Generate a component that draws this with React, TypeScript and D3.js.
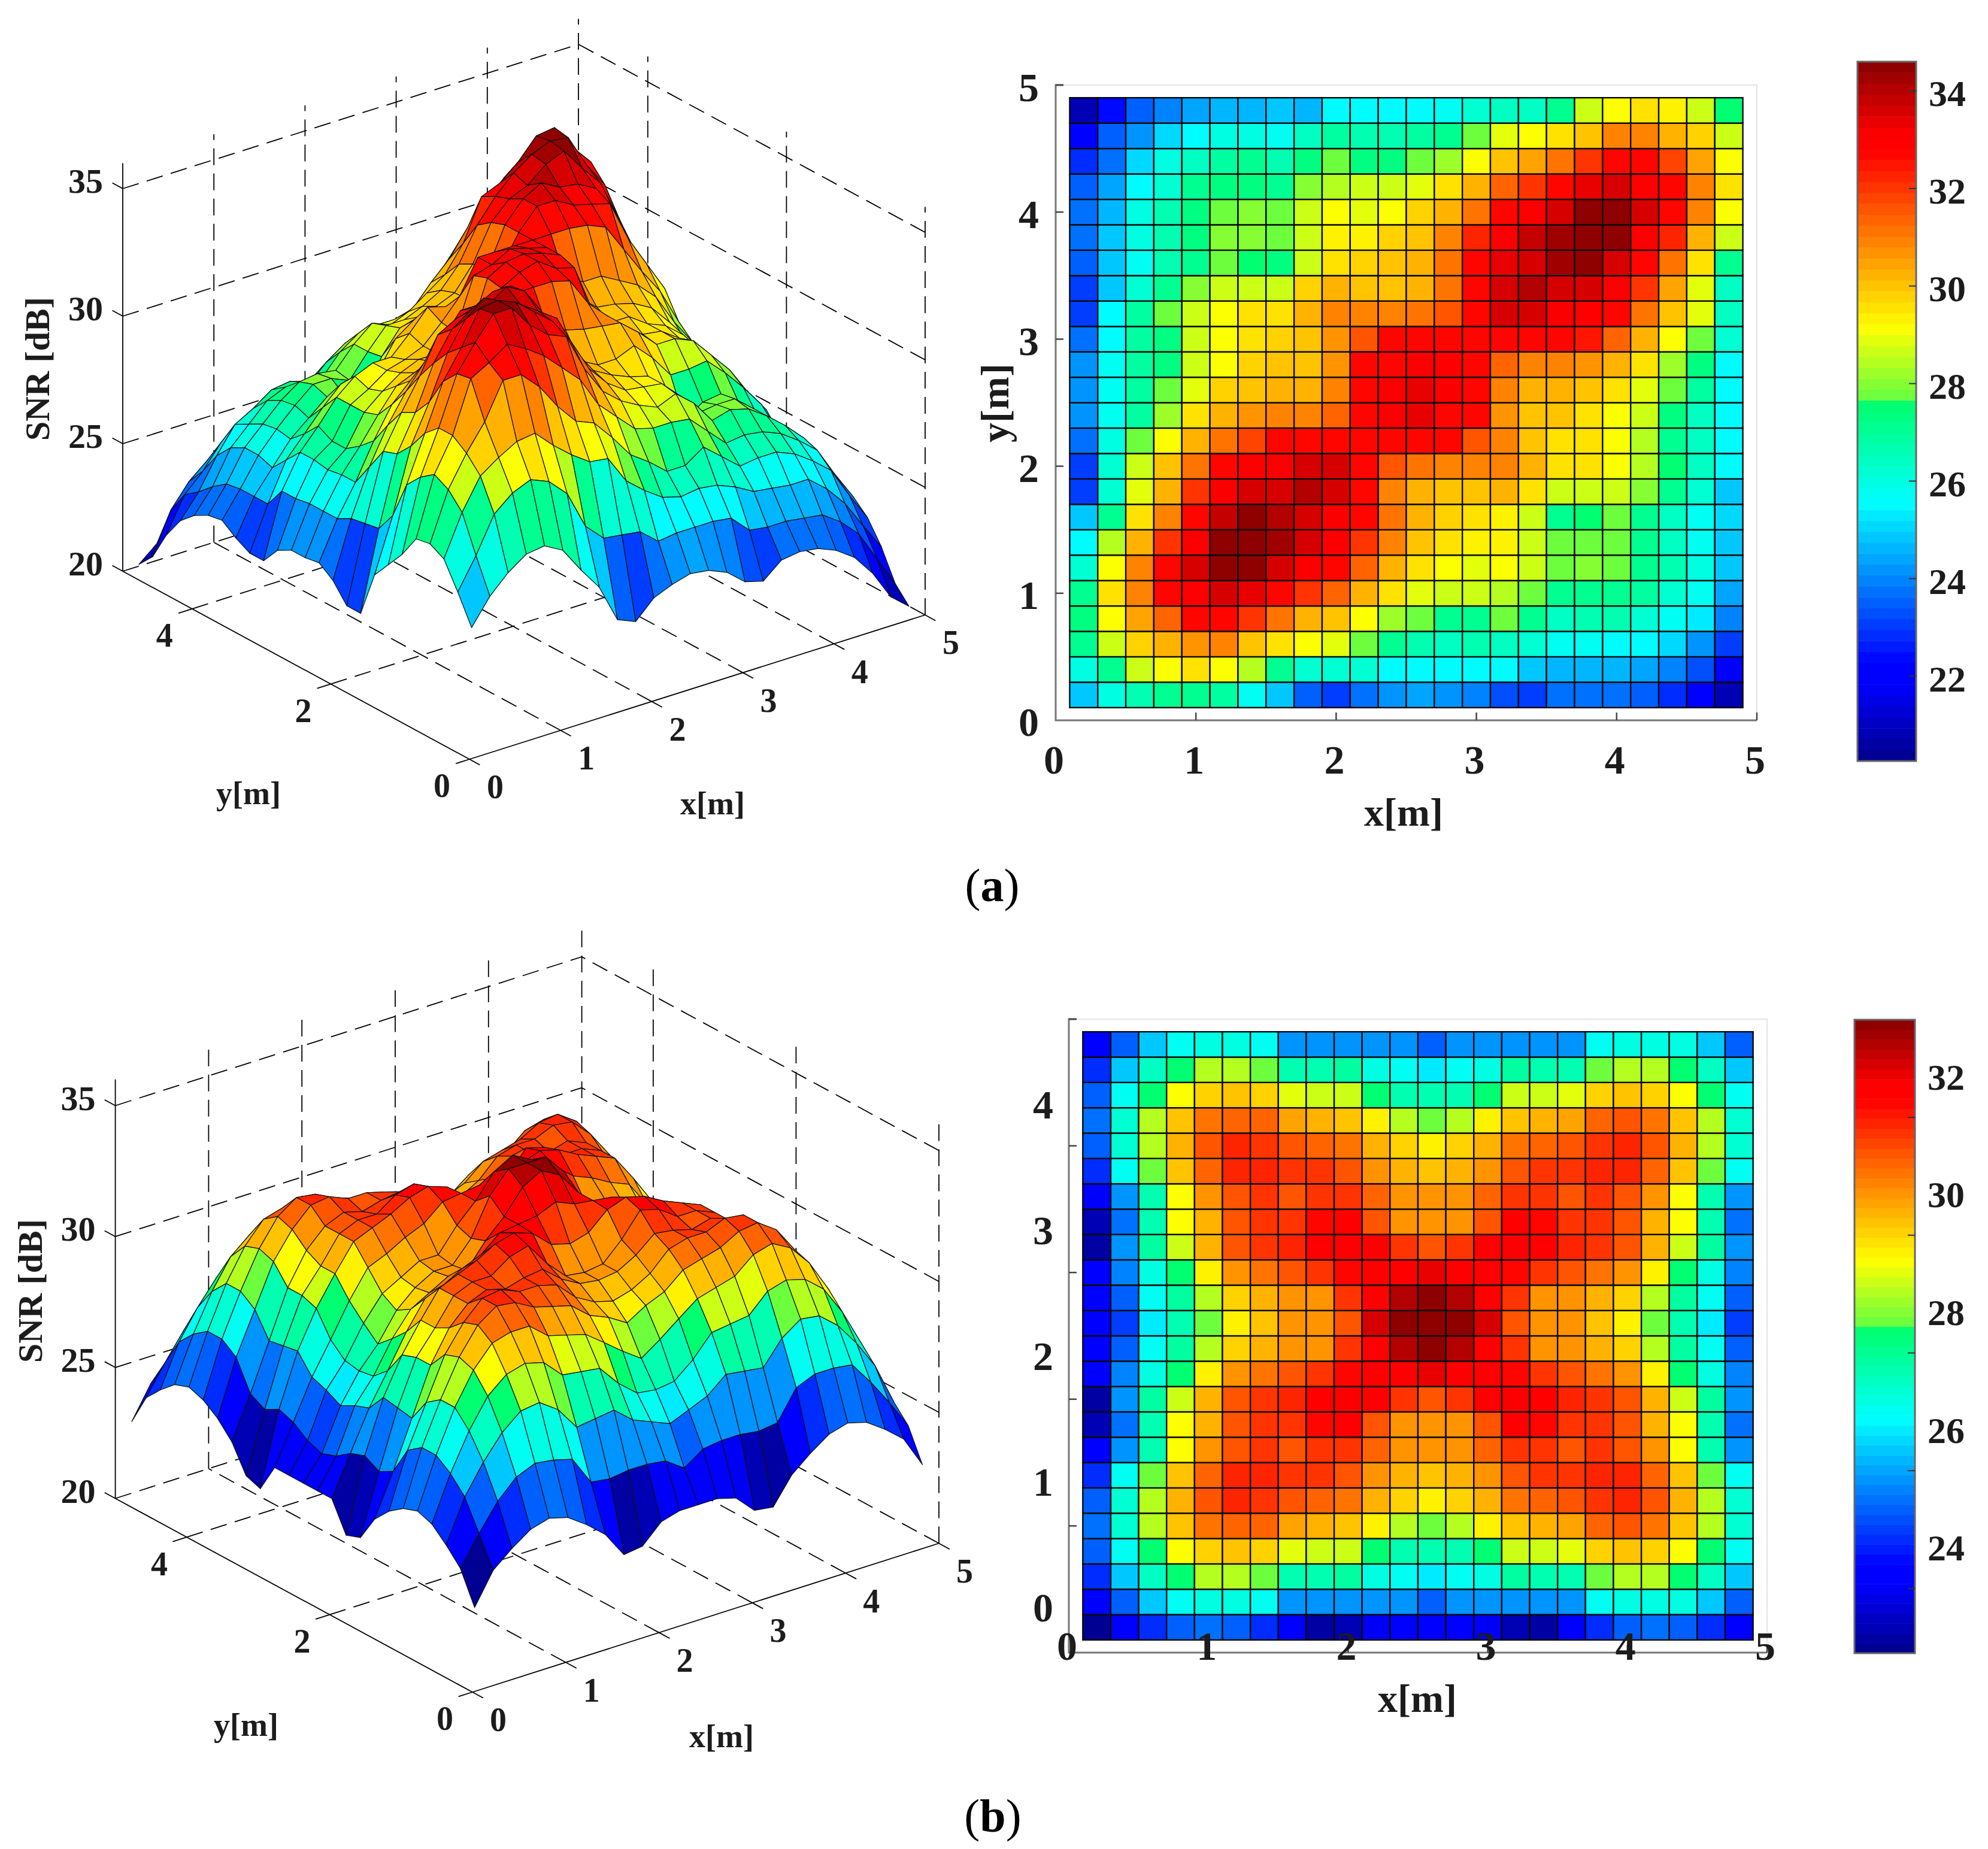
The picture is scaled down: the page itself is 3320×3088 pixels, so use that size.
import * as d3 from 'd3'

const snrRowsA: number[][] = [
  [24.9, 25.9, 26.6, 27.1, 27.2, 26.8, 25.8, 24.9, 23.4, 23.1, 23.8, 24.1, 24.3, 24.2, 23.9, 23.3, 23.1, 23.7, 23.8, 23.7, 23.4, 22.9, 22.05, 20.9],
  [26.0, 27.2, 28.6, 29.2, 29.5, 29.2, 28.5, 27.0, 26.3, 26.2, 26.1, 25.5, 25.6, 25.6, 25.6, 25.5, 24.8, 24.7, 24.7, 24.6, 24.5, 24.0, 23.3, 22.1],
  [27.0, 28.6, 29.8, 30.3, 30.7, 30.8, 30.1, 29.5, 29.0, 28.9, 27.8, 27.2, 26.7, 26.5, 26.6, 26.5, 26.2, 25.8, 25.7, 25.6, 25.6, 25.0, 24.2, 23.1],
  [27.3, 29.2, 30.4, 31.4, 32.8, 32.8, 32.1, 31.1, 30.3, 30.0, 29.2, 28.3, 27.8, 27.2, 27.2, 27.7, 27.1, 26.5, 26.6, 26.6, 26.3, 25.8, 25.2, 24.0],
  [27.2, 29.5, 30.8, 32.8, 33.2, 33.7, 33.3, 32.8, 32.1, 31.4, 30.2, 29.5, 28.8, 28.6, 28.6, 28.5, 27.8, 27.1, 27.2, 27.1, 26.8, 26.3, 25.7, 24.5],
  [26.3, 29.1, 30.8, 32.7, 33.7, 34.6, 34.6, 33.7, 33.1, 32.8, 31.3, 30.2, 29.6, 29.2, 28.9, 29.2, 28.6, 27.7, 27.9, 27.7, 27.2, 26.6, 25.9, 24.8],
  [25.6, 28.5, 30.3, 32.1, 33.2, 34.5, 34.6, 34.3, 33.7, 33.1, 32.1, 30.8, 30.0, 29.5, 29.4, 29.3, 28.6, 27.7, 27.8, 27.8, 27.2, 26.5, 25.8, 24.9],
  [24.9, 27.0, 29.5, 31.0, 32.7, 33.8, 34.4, 34.0, 33.7, 33.2, 32.7, 31.2, 30.2, 29.8, 29.5, 29.3, 28.6, 27.1, 27.6, 27.7, 27.1, 26.4, 25.7, 25.0],
  [23.1, 26.2, 28.9, 30.3, 32.0, 33.1, 33.6, 33.6, 34.1, 33.7, 32.6, 31.0, 30.3, 29.9, 29.9, 30.2, 29.5, 28.6, 28.6, 28.7, 28.0, 27.2, 26.3, 24.9],
  [23.1, 26.1, 28.7, 30.0, 31.2, 32.6, 33.0, 33.2, 33.6, 33.6, 32.7, 31.5, 31.2, 31.0, 30.9, 30.8, 30.2, 29.5, 29.5, 29.2, 28.4, 27.6, 26.5, 25.6],
  [23.8, 26.0, 27.8, 29.2, 30.3, 31.2, 31.9, 32.8, 32.8, 32.8, 32.8, 32.8, 32.8, 32.6, 31.5, 30.8, 30.0, 29.6, 29.5, 29.0, 28.4, 27.2, 26.4, 25.6],
  [24.2, 25.7, 26.9, 28.3, 29.5, 30.2, 30.7, 31.0, 30.9, 31.4, 32.7, 33.1, 33.3, 32.8, 32.6, 30.7, 30.0, 30.0, 29.5, 29.2, 28.6, 27.3, 26.5, 25.6],
  [24.1, 25.7, 26.9, 27.8, 28.8, 29.7, 30.0, 30.2, 30.2, 30.8, 32.8, 33.2, 33.3, 33.1, 32.8, 30.9, 30.3, 30.2, 30.0, 29.6, 28.8, 27.7, 26.9, 25.6],
  [24.1, 25.7, 26.8, 27.4, 28.6, 29.2, 29.7, 30.0, 30.0, 30.6, 32.6, 32.8, 33.2, 33.0, 32.8, 31.4, 31.0, 31.0, 30.6, 30.2, 29.5, 28.3, 27.3, 25.6],
  [23.8, 25.6, 26.9, 27.4, 28.6, 29.0, 29.5, 29.7, 30.0, 30.7, 31.5, 32.8, 32.8, 32.8, 32.8, 32.8, 32.8, 32.7, 32.4, 31.3, 30.2, 29.2, 27.8, 26.3],
  [23.1, 25.6, 26.9, 27.7, 28.6, 29.2, 29.5, 29.5, 30.2, 31.0, 30.8, 30.8, 31.2, 31.6, 32.8, 33.6, 33.6, 33.2, 33.0, 32.8, 31.2, 30.0, 28.8, 26.4],
  [23.1, 24.8, 26.3, 27.1, 27.9, 28.6, 28.6, 28.6, 29.7, 30.2, 30.0, 30.0, 30.3, 31.2, 32.8, 33.6, 34.0, 33.6, 33.5, 33.1, 32.0, 30.4, 28.9, 26.4],
  [23.4, 24.8, 25.7, 26.6, 27.2, 27.8, 27.6, 27.3, 28.7, 29.6, 29.8, 30.0, 30.3, 31.2, 32.6, 33.3, 33.6, 34.2, 34.5, 33.6, 32.8, 31.2, 29.5, 27.2],
  [23.8, 24.8, 25.9, 26.7, 27.4, 28.0, 28.0, 27.7, 28.6, 29.4, 29.4, 29.7, 30.1, 30.9, 32.2, 33.1, 33.8, 34.3, 34.6, 34.5, 33.2, 32.2, 30.3, 28.6],
  [23.7, 24.7, 25.9, 26.6, 27.3, 27.8, 27.9, 27.8, 28.6, 29.2, 28.9, 29.2, 29.7, 30.2, 31.2, 32.8, 33.1, 33.7, 34.5, 34.6, 33.6, 32.8, 30.9, 29.2],
  [23.4, 24.3, 25.6, 26.3, 27.0, 27.3, 27.3, 27.2, 28.0, 28.5, 28.6, 28.6, 28.8, 29.6, 30.3, 31.3, 32.0, 32.8, 33.3, 33.6, 33.2, 32.7, 31.0, 29.6],
  [22.9, 23.8, 25.0, 26.0, 26.4, 26.9, 27.0, 26.6, 27.3, 27.8, 27.4, 27.3, 27.8, 28.3, 29.2, 30.1, 30.5, 31.2, 32.1, 32.8, 32.6, 31.8, 30.4, 29.2],
  [22.05, 23.4, 24.1, 25.0, 25.6, 25.9, 25.9, 25.7, 26.4, 26.9, 26.6, 26.7, 26.8, 27.1, 27.8, 28.8, 29.0, 29.5, 30.1, 30.8, 30.9, 30.3, 29.8, 28.6],
  [20.9, 22.5, 23.4, 24.0, 24.5, 24.7, 24.7, 24.9, 24.7, 25.6, 25.6, 25.6, 25.6, 25.7, 26.2, 26.5, 26.5, 27.1, 28.6, 29.2, 29.5, 29.3, 28.6, 27.5],
]
// the surface also has a last column (x = 4.9) and a last row (y = 4.9) the map does not show
const snrEdgeColA = [20.3, 20.9, 22.05, 22.9, 23.4, 23.7, 23.8, 23.4, 23.1, 23.1, 23.8, 24.1, 24.1, 24.2, 23.8, 23.1, 23.1, 24.9, 25.6, 26.3, 27.2, 27.3, 27.0, 26.0]
const snrEdgeRowA = [20.3, 20.9, 22.05, 22.9, 23.4, 23.7, 23.8, 23.7, 23.1, 23.3, 23.9, 24.2, 24.3, 24.1, 23.8, 23.1, 23.4, 24.9, 25.8, 26.8, 27.2, 27.1, 26.6, 25.9, 24.9]

// panel (b) is mirrored about its middle row, so only the lower half is listed
const rowB0 = [22.3, 23.5, 24.1, 24.6, 24.8, 24.6, 24.1, 23.5, 22.5, 22.6, 23.3, 23.5, 23.5, 23.5, 23.3, 22.6, 22.5, 23.5, 24.1, 24.6, 24.8, 24.6, 24.1, 23.5]
const rowB1 = [23.5, 24.6, 25.6, 26.3, 26.6, 26.5, 26.3, 25.2, 25.1, 25.2, 25.2, 25.1, 24.6, 25.1, 25.2, 25.2, 25.1, 25.2, 26.3, 26.6, 26.6, 26.5, 25.6, 24.6]
const rowB2 = [24.1, 25.7, 26.8, 27.7, 28.3, 28.4, 27.9, 27.0, 27.1, 27.2, 26.6, 26.3, 26.0, 26.3, 26.6, 27.2, 27.1, 27.0, 27.9, 28.4, 28.3, 27.7, 26.8, 25.7]
const rowB3 = [24.6, 26.3, 27.7, 28.8, 29.4, 29.6, 29.4, 28.7, 28.6, 28.5, 27.7, 27.1, 27.0, 27.1, 27.7, 28.5, 28.6, 28.7, 29.4, 29.6, 29.4, 28.8, 27.7, 26.3]
const rowB4 = [24.8, 26.7, 28.3, 29.5, 30.3, 30.5, 30.5, 29.9, 29.7, 29.5, 28.96, 28.4, 27.9, 28.4, 28.96, 29.5, 29.7, 29.9, 30.5, 30.7, 30.3, 29.5, 28.3, 26.7]
const rowB5 = [24.6, 26.7, 28.3, 29.7, 30.7, 31.2, 31.1, 30.7, 30.5, 30.3, 29.7, 29.4, 28.96, 29.4, 29.7, 30.3, 30.5, 30.7, 31.1, 31.2, 30.7, 29.7, 28.3, 26.7]
const rowB6 = [24.2, 26.3, 27.9, 29.5, 30.5, 31.2, 31.3, 31.0, 31.0, 30.8, 30.1, 29.7, 29.5, 29.7, 30.1, 30.8, 31.0, 31.0, 31.3, 31.2, 30.5, 29.5, 27.9, 26.3]
const rowB7 = [23.6, 25.2, 27.0, 28.8, 30.0, 30.7, 31.0, 30.8, 31.0, 31.1, 30.5, 30.1, 30.0, 30.1, 30.5, 31.1, 31.0, 30.8, 31.0, 30.7, 30.0, 28.8, 27.0, 25.2]
const rowB8 = [22.6, 24.9, 27.1, 28.8, 29.7, 30.7, 31.0, 31.0, 31.5, 31.7, 30.8, 30.1, 30.0, 30.1, 30.8, 31.7, 31.5, 31.0, 31.0, 30.7, 29.7, 28.8, 27.1, 24.9]
const rowB9 = [22.4, 25.2, 27.2, 28.6, 29.7, 30.7, 31.0, 31.3, 31.7, 31.9, 31.65, 31.0, 30.8, 31.0, 31.65, 31.9, 31.7, 31.3, 31.0, 30.7, 29.7, 28.6, 27.2, 25.2]
const rowB10 = [23.5, 25.0, 26.5, 27.7, 28.96, 30.0, 30.3, 30.7, 31.0, 31.6, 31.7, 31.8, 32.1, 31.8, 31.7, 31.6, 31.0, 30.7, 30.3, 30.0, 28.96, 27.7, 26.5, 25.0]
const rowB11 = [23.5, 24.6, 26.3, 27.2, 28.4, 29.3, 29.7, 30.1, 30.1, 31.0, 31.7, 32.6, 33.0, 32.6, 31.7, 31.0, 30.1, 30.1, 29.7, 29.3, 28.4, 27.2, 26.3, 24.6]
const rowB12 = [23.5, 24.4, 26.0, 27.1, 27.9, 28.96, 29.6, 30.0, 30.0, 30.8, 32.2, 33.0, 33.0, 33.0, 32.2, 30.8, 30.0, 30.0, 29.6, 28.96, 27.9, 27.1, 26.0, 24.4]
const snrRowsB = [rowB0, rowB1, rowB2, rowB3, rowB4, rowB5, rowB6, rowB7, rowB8, rowB9, rowB10, rowB11, rowB12, rowB11, rowB10, rowB9, rowB8, rowB7, rowB6, rowB5, rowB4, rowB3, rowB2, rowB1, rowB0]
// the values above were read against the printed bar labels, which sit off their ticks by this much
const B_LABEL_SHIFT = 0.67

const gridA = [...snrRowsA.map((r, j) => [...r, snrEdgeColA[j]]), snrEdgeRowA]
const gridB = snrRowsB.map((r) => [...r, r[0]].map((v) => v + B_LABEL_SHIFT))

const xyTicks = [0, 1, 2, 3, 4, 5]
const yTicks3d = [0, 2, 4]
const zTicks = [20, 25, 30, 35]
const barTicksA = [22, 24, 26, 28, 30, 32, 34]
const barTicksB = [24, 26, 28, 30, 32]

const SERIF = '"Liberation Serif", "Times New Roman", serif'
const N_COLORS = 64
const CELL = 0.2
const START = 0.1

const jet = d3
  .scaleLinear<string>()
  .domain([0, 0.11, 0.14, 0.37, 0.5186, 0.5187, 0.62, 0.872, 0.895, 1])
  .range(['#00008a', '#0000ff', '#0000ff', '#00ffff', '#00ff66', '#66ff40', '#ffff00', '#ff0000', '#ff0000', '#860000'])
  .clamp(true)

const colorFor = (domain: number[]) => (v: number) => {
  const t = (v - domain[0]) / (domain[1] - domain[0])
  const k = Math.max(0, Math.min(N_COLORS - 1, Math.floor(t * N_COLORS)))
  return jet((k + 0.5) / N_COLORS)
}

const Label = ({ x, y, size, children, weight = 'bold', rotate }: any) => (
  <text
    x={rotate ? undefined : x}
    y={rotate ? undefined : y + size * 0.33}
    transform={rotate ? `translate(${x + size * 0.33},${y}) rotate(-90)` : undefined}
    textAnchor="middle"
    fontFamily={SERIF}
    fontWeight={weight}
    fontSize={size}
    fill="#1c1c1c"
  >
    {children}
  </text>
)

const Surface3D = ({ grid, domain, front, right, left, zSpan, labels }: any) => {
  const color = colorFor(domain)
  const xToX = d3.scaleLinear([0, 5], [0, right.x - front.x])
  const xToY = d3.scaleLinear([0, 5], [0, right.y - front.y])
  const yToX = d3.scaleLinear([0, 5], [0, left.x - front.x])
  const yToY = d3.scaleLinear([0, 5], [0, left.y - front.y])
  const zToY = d3.scaleLinear([20, 35], [0, zSpan])
  const project = (x: number, y: number, z: number): [number, number] => [
    front.x + xToX(x) + yToX(y),
    front.y + xToY(x) + yToY(y) - zToY(z),
  ]
  const path = d3.line()
  const seg = (a: number[], b: number[]) =>
    path([project(a[0], a[1], a[2]), project(b[0], b[1], b[2])]) as string

  const dashed: string[] = []
  zTicks.forEach((z) => {
    dashed.push(seg([0, 5, z], [5, 5, z]))
    dashed.push(seg([5, 0, z], [5, 5, z]))
  })
  xyTicks.slice(1).forEach((x) => dashed.push(seg([x, 5, 20], [x, 5, 36])))
  yTicks3d.forEach((y) => dashed.push(seg([5, y, 20], [5, y, 36])))
  xyTicks.slice(1, 5).forEach((x) => dashed.push(seg([x, 0, 20], [x, 5, 20])))
  yTicks3d.slice(1).forEach((y) => dashed.push(seg([0, y, 20], [5, y, 20])))

  const solid = [seg([0, 0, 20], [5, 0, 20]), seg([0, 0, 20], [0, 5, 20]), seg([0, 5, 20], [0, 5, 36])]
  xyTicks.forEach((x) => solid.push(seg([x, 0, 20], [x, -0.15, 20])))
  yTicks3d.forEach((y) => solid.push(seg([0, y, 20], [-0.15, y, 20])))
  zTicks.forEach((z) => solid.push(seg([0, 5, z], [0, 5.15, z])))

  // back to front, so nearer faces paint over the far ones
  const faces: { d: string; fill: string; key: string }[] = []
  for (let i = grid.length - 2; i >= 0; i--) {
    for (let j = grid.length - 2; j >= 0; j--) {
      const pts = [
        [i, j],
        [i + 1, j],
        [i + 1, j + 1],
        [i, j + 1],
      ].map(([a, b]) => project(START + a * CELL, START + b * CELL, grid[b][a]))
      faces.push({ key: `${i}-${j}`, d: (path(pts) as string) + 'Z', fill: color(grid[j][i]) })
    }
  }

  return (
    <g>
      <g stroke="#000" strokeWidth={1.8} strokeDasharray="28 14" fill="none">
        {dashed.map((d, i) => (
          <path key={i} d={d} />
        ))}
      </g>
      <g stroke="#000" strokeWidth={1.8} fill="none">
        {solid.map((d, i) => (
          <path key={i} d={d} />
        ))}
      </g>
      <g stroke="#111" strokeWidth={1.2} strokeLinejoin="round">
        {faces.map((f) => (
          <path key={f.key} d={f.d} fill={f.fill} />
        ))}
      </g>
      {zTicks.map((z) => {
        const p = project(0, 5, z)
        return (
          <Label key={z} x={p[0] - 62} y={p[1] - 12} size={58}>
            {z}
          </Label>
        )
      })}
      {xyTicks.map((x) => {
        const p = project(x, 0, 20)
        return (
          <Label key={x} x={p[0] + 43} y={p[1] + 47} size={56}>
            {x}
          </Label>
        )
      })}
      {yTicks3d.map((y) => {
        const p = project(0, y, 20)
        return (
          <Label key={y} x={p[0] - 46} y={p[1] + 45} size={56}>
            {y}
          </Label>
        )
      })}
      <Label x={labels.z[0]} y={labels.z[1]} size={58} rotate>
        SNR [dB]
      </Label>
      <Label x={labels.y[0]} y={labels.y[1]} size={54}>
        y[m]
      </Label>
      <Label x={labels.x[0]} y={labels.x[1]} size={54}>
        x[m]
      </Label>
    </g>
  )
}

const Heatmap = ({ grid, domain, box, yRange, xTickY, yTickX, yLabelPos, xLabel, yLabel, yLabels }: any) => {
  const color = colorFor(domain)
  const xScale = d3.scaleLinear([0, 5], [box.left, box.right])
  const yScale = d3.scaleLinear(yRange, [box.bottom, box.top])
  const cols = d3.range(24)
  return (
    <g>
      <path
        d={`M${box.left},${box.top}H${box.right}V${box.bottom}`}
        fill="none"
        stroke="#e4e4e4"
        strokeWidth={2}
      />
      <path
        d={`M${box.left + 13},${box.top}H${box.left}V${box.bottom}H${box.right}`}
        fill="none"
        stroke="#777"
        strokeWidth={3}
      />
      {xyTicks.slice(1).map((t) => (
        <line key={t} x1={xScale(t)} x2={xScale(t)} y1={box.bottom} y2={box.bottom - 13} stroke="#444" strokeWidth={2.5} />
      ))}
      {xyTicks.slice(1).map((t) => (
        <line key={t} x1={box.left} x2={box.left + 13} y1={yScale(t)} y2={yScale(t)} stroke="#444" strokeWidth={2.5} />
      ))}
      <g stroke="#0a0a0a" strokeWidth={2.4}>
        {cols.map((j) =>
          cols.map((i) => (
            <rect
              key={`${i}-${j}`}
              x={xScale(START + i * CELL)}
              y={yScale(START + (j + 1) * CELL)}
              width={xScale(START + (i + 1) * CELL) - xScale(START + i * CELL)}
              height={yScale(START + j * CELL) - yScale(START + (j + 1) * CELL)}
              fill={color(grid[j][i])}
            />
          )),
        )}
      </g>
      {xyTicks.map((t) => (
        <Label key={t} x={xScale(t) - 3} y={xTickY} size={68}>
          {t}
        </Label>
      ))}
      {yLabels.map((t: number) => (
        <Label key={t} x={yTickX} y={yLabelPos(t)} size={68}>
          {t}
        </Label>
      ))}
      <Label x={xLabel[0]} y={xLabel[1]} size={66}>
        x[m]
      </Label>
      {yLabel && (
        <Label x={yLabel[0]} y={yLabel[1]} size={66} rotate>
          y[m]
        </Label>
      )}
    </g>
  )
}

const Colorbar = ({ domain, box, ticks, labelShift }: any) => {
  const color = colorFor(domain)
  const y = d3.scaleLinear(domain, [box.bottom, box.top])
  const bands = d3.range(N_COLORS)
  const bandH = (box.bottom - box.top) / N_COLORS
  return (
    <g>
      {bands.map((k) => (
        <rect
          key={k}
          x={box.left}
          width={box.right - box.left}
          y={box.bottom - (k + 1) * bandH}
          height={bandH + 0.5}
          fill={color(domain[0] + ((k + 0.5) / N_COLORS) * (domain[1] - domain[0]))}
        />
      ))}
      <rect x={box.left} y={box.top} width={box.right - box.left} height={box.bottom - box.top} fill="none" stroke="#666" strokeWidth={3} />
      {ticks.map((t: number) => (
        <g key={t}>
          <line x1={box.right - 12} x2={box.right} y1={y(t)} y2={y(t)} stroke="#333" strokeWidth={2} />
          <Label x={box.right + 52} y={y(t) + labelShift} size={62}>
            {t}
          </Label>
        </g>
      ))}
    </g>
  )
}

const Caption = ({ x, y, letter }: any) => (
  <text x={x} y={y} textAnchor="middle" fontFamily={SERIF} fontSize={78} fill="#000">
    (<tspan fontWeight="bold">{letter}</tspan>)
  </text>
)

export default function App() {
  const domainA = [20.26, 34.6]
  const domainB = [22.9, 33.66]
  return (
    <svg width={3320} height={3088} style={{ position: 'absolute', left: 0, top: 0, background: '#fff' }}>
      <Surface3D
        grid={gridA}
        domain={domainA}
        front={{ x: 784, y: 1268 }}
        right={{ x: 1545, y: 1027 }}
        left={{ x: 205, y: 954 }}
        zSpan={639}
        labels={{ z: [63, 616], y: [415, 1325], x: [1190, 1342] }}
      />
      <Heatmap
        grid={gridA}
        domain={domainA}
        box={{ left: 1763, right: 2934, top: 142, bottom: 1203 }}
        yRange={[0, 5]}
        xTickY={1270}
        yTickX={1718}
        yLabelPos={d3.scaleLinear([0, 5], [1207, 147])}
        yLabels={xyTicks}
        xLabel={[2344, 1357]}
        yLabel={[1662, 673]}
      />
      <Colorbar domain={domainA} box={{ left: 3102, right: 3200, top: 103, bottom: 1271 }} ticks={barTicksA} labelShift={5} />
      <Caption x={1657} y={1505} letter="a" />

      <Surface3D
        grid={gridB}
        domain={domainB}
        front={{ x: 789, y: 2826 }}
        right={{ x: 1568, y: 2577.5 }}
        left={{ x: 192.6, y: 2502.5 }}
        zSpan={656}
        labels={{ z: [50.5, 2156], y: [411, 2881], x: [1205, 2900] }}
      />
      <Heatmap
        grid={gridB}
        domain={domainB}
        box={{ left: 1785, right: 2951, top: 1702, bottom: 2760 }}
        yRange={[0, 5]}
        xTickY={2750}
        yTickX={1742}
        yLabelPos={d3.scaleLinear([0, 4], [2686, 1846])}
        yLabels={[0, 1, 2, 3, 4]}
        xLabel={[2367, 2837]}
      />
      <Colorbar domain={domainB} box={{ left: 3097, right: 3198, top: 1703, bottom: 2761 }} ticks={barTicksB} labelShift={-67} />
      <Caption x={1658} y={3059} letter="b" />
    </svg>
  )
}
